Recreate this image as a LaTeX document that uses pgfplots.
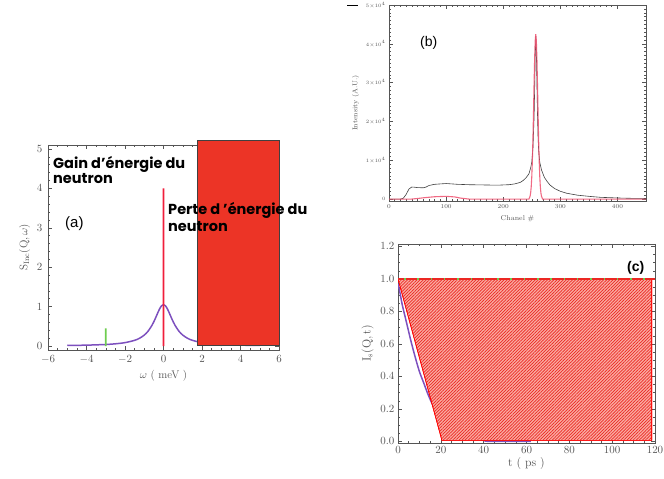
\documentclass[border=0pt]{standalone}
\usepackage{pgfplots}
\pgfplotsset{compat=1.18}
\usepackage{fontspec}
\usetikzlibrary{patterns.meta}
\newfontfamily\pop{Poppins}
\newfontfamily\lib{Liberation Sans}
\definecolor{purp}{RGB}{125,80,190}
\definecolor{rfill}{RGB}{236,52,38}
\definecolor{lgreen}{RGB}{110,205,80}
\definecolor{vred}{RGB}{240,30,60}
\definecolor{pinkred}{RGB}{238,80,110}
\definecolor{axgray}{RGB}{85,85,85}
\definecolor{hatchbg}{RGB}{250,172,162}
\definecolor{hatchred}{RGB}{235,40,35}
\pgfplotsset{
  idl/.style={
    scale only axis, anchor=south west,
    axis line style={axgray, line width=0.6pt},
    tick style={axgray, line width=0.5pt},
    major tick length=4pt, minor tick length=2pt,
    tick align=inside,
    ticklabel style={text=axgray},
    label style={text=axgray},
  }
}
\begin{document}
\begin{tikzpicture}
\path[use as bounding box] (0,0) rectangle (664pt,479pt);
% ---------------- (a)
\begin{axis}[idl, at={(48pt,129pt)}, width=231pt, height=205pt,
 xmin=-6, xmax=6, ymin=-0.1, ymax=5.1, xtick={-6,-4,...,6}, ytick={0,1,2,3,4,5},
 minor x tick num=3, minor y tick num=4,
 ticklabel style={font=\fontsize{11}{12}\selectfont},
 xticklabel style={yshift=-2pt},
 yticklabel style={xshift=-2pt},
 xlabel={$\omega$ ( meV )}, ylabel={$\mathrm{S_{Inc}(Q,\omega)}$},
 label style={font=\fontsize{11}{12}\selectfont},
 clip=false]
\addplot[purp, line width=1.5pt, smooth] coordinates {
(-5,0.015)(-4,0.023)(-3,0.040)(-2.5,0.057)(-2,0.087)(-1.5,0.145)(-1.25,0.197)(-1,0.278)(-0.8,0.378)(-0.6,0.525)(-0.5,0.620)(-0.4,0.727)(-0.3,0.840)(-0.2,0.945)(-0.1,1.022)(0,1.05)
(0.1,1.022)(0.2,0.945)(0.3,0.840)(0.4,0.727)(0.5,0.620)(0.6,0.525)(0.8,0.378)(1,0.278)(1.25,0.197)(1.5,0.145)(2,0.087)(2.5,0.057)(3,0.040)(4,0.023)(5,0.015)};
\addplot[fill=vred, draw=none] coordinates {(-0.045,0) (0.045,0) (0.045,4) (-0.045,4) (-0.045,0)};
\addplot[fill=lgreen, draw=none] coordinates {(-3.04,0) (-2.96,0) (-2.96,0.45) (-3.04,0.45) (-3.04,0)};
\addplot[fill=lgreen, draw=none] coordinates {(2.96,0) (3.04,0) (3.04,0.45) (2.96,0.45) (2.96,0)};
\addplot[fill=rfill, draw=black!75, line width=0.6pt] coordinates {(1.74,0.03) (6,0.03) (6,5.22) (1.74,5.22) (1.74,0.03)};
\end{axis}
\node[anchor=base west, inner sep=0, font=\pop\bfseries\fontsize{14.5}{16}\selectfont] at (53pt,310.7pt) {Gain d’énergie du};
\node[anchor=base west, inner sep=0, font=\pop\bfseries\fontsize{14.5}{16}\selectfont] at (53pt,295pt) {neutron};
\node[anchor=base west, inner sep=0, font=\lib\fontsize{15}{16}\selectfont] at (65pt,251pt) {(a)};
\node[anchor=base west, inner sep=0, font=\pop\bfseries\fontsize{14.5}{16}\selectfont] at (168pt,264pt) {Perte d ’énergie du};
\node[anchor=base west, inner sep=0, font=\pop\bfseries\fontsize{14.5}{16}\selectfont] at (168pt,247.3pt) {neutron};
% ---------------- (b)
\begin{axis}[idl, at={(389pt,278pt)}, width=257pt, height=196pt,
 xmin=0, xmax=450, ymin=-500, ymax=50000, xtick={0,100,...,400}, ytick={0,10000,20000,30000,40000,50000},
 yticklabels={0,$1{\times}10^4$,$2{\times}10^4$,$3{\times}10^4$,$4{\times}10^4$,$5{\times}10^4$},
 scaled y ticks=false,
 minor x tick num=9, minor y tick num=9,
 xticklabel style={font=\fontsize{6.5}{7}\selectfont},
 yticklabel style={font=\fontsize{5}{6}\selectfont},
 xlabel={Chanel \#}, ylabel={Intensity (A.U.)}, label style={font=\fontsize{7}{8}\selectfont}]
\addplot[black!75, line width=0.6pt] coordinates {
(0,0)(20,0)(25,200)(30,1200)(35,2600)(40,3100)(45,3050)(50,2950)(60,2900)(65,3100)(70,3500)(80,3800)(90,3900)(100,4000)(110,3900)(120,3800)(140,3700)(160,3650)(180,3600)(194,3600)(210,3700)(220,3900)(230,4300)(235,4800)(240,5500)(245,6500)(248,8000)(250,9500)(252,13000)(254,21000)(255,28000)(256,37000)(257,42000)(258,38000)(259,30000)(260,22000)(261,16000)(262,12500)(264,9500)(267,7500)(272,5600)(277,4500)(282,3600)(290,2700)(300,2000)(311,1500)(330,1000)(350,700)(370,450)(400,280)(420,200)(450,150)};
\addplot[pinkred, line width=1.1pt, opacity=0.85] coordinates {
(0,0)(40,0)(50,150)(65,400)(80,600)(100,700)(115,550)(125,250)(140,0)(245,0)(247,720)(248,1560)(249,3120)(250,5740)(251,9800)(252,15300)(253,22100)(254,29500)(255,36100)(256,40800)(257,42500)(258,40800)(259,36100)(260,29500)(261,22100)(262,15300)(263,9800)(264,5740)(265,3120)(266,1560)(267,720)(269,0)(450,0)};
\end{axis}
\draw[black, line width=0.6pt] (347pt,474pt) -- (358pt,474pt);
\node[anchor=base west, inner sep=0, font=\lib\fontsize{14}{15}\selectfont] at (420pt,432pt) {(b)};
% ---------------- (c)
\begin{axis}[idl, at={(398pt,36pt)}, width=257pt, height=199pt,
 xmin=0, xmax=120, ymin=-0.01, ymax=1.215, xtick={0,20,...,120}, ytick={0,0.2,0.4,0.6,0.8,1.0,1.2},
 minor x tick num=3, minor y tick num=3,
 yticklabel style={/pgf/number format/.cd, fixed, fixed zerofill, precision=1},
 ticklabel style={font=\fontsize{10.5}{12}\selectfont},
 xlabel={t ( ps )}, ylabel={$\mathrm{I_s(Q,t)}$},
 xlabel style={yshift=3pt},
 label style={font=\fontsize{12}{13}\selectfont}]
\addplot[purp, line width=1.5pt, smooth] coordinates {
(0,0.97)(1,0.91)(2,0.84)(4,0.73)(6,0.62)(8,0.52)(10,0.43)(12,0.36)(14,0.29)(16,0.23)(18,0.18)(20,0.15)(25,0.09)(30,0.05)(35,0.022)(40,0.006)(43,0)(62,0)};
\addplot[draw=red, line width=0.6pt, fill=hatchbg, postaction={pattern={Lines[angle=45, distance=2.2pt, line width=0.7pt]}, pattern color=hatchred}] coordinates {(0,1) (118.5,1) (118.5,0.006) (20.5,0.006) (0,1)};
\addplot[draw=hatchred, line width=2pt] coordinates {(0,1) (120,1)};
\addplot[draw=lgreen, line width=1.5pt, dash pattern=on 1.5pt off 11.8pt, dash phase=-6pt] coordinates {(0,1) (120,1)};
\end{axis}
\node[anchor=base west, inner sep=0, font=\lib\bfseries\fontsize{14}{15}\selectfont] at (627pt,207.3pt) {(c)};
\end{tikzpicture}
\end{document}
